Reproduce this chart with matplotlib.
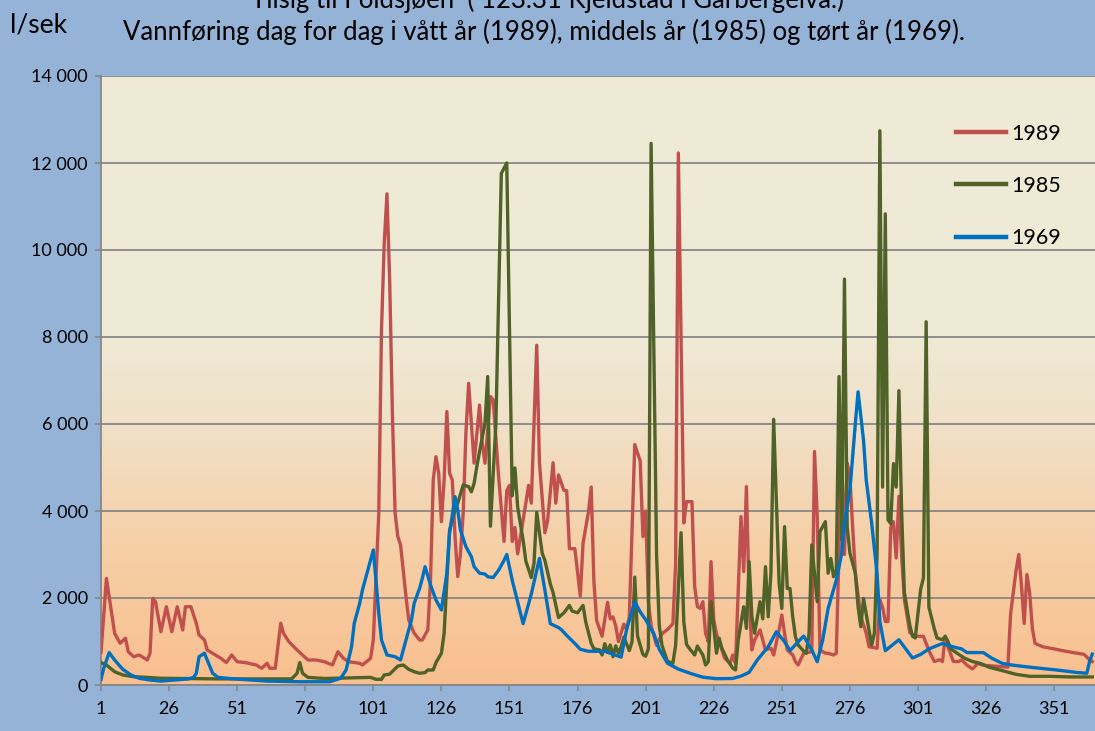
import matplotlib
matplotlib.use("Agg")
import matplotlib.pyplot as plt
import numpy as np
from matplotlib.colors import LinearSegmentedColormap
from matplotlib.lines import Line2D

plt.rcParams['font.family'] = ['Lato', 'DejaVu Sans']

# ---------------- data ----------------
days_1989 = [1, 3, 4, 6, 8, 10, 11, 13, 15, 18, 19, 20, 21, 23, 25, 27, 29, 31, 32, 34, 36, 37, 39, 40, 42, 45, 47,
             49, 51, 54, 58, 60, 62, 63, 65, 67, 68, 70, 73, 75, 77, 80, 83, 86, 88, 90, 92, 96, 97, 100, 101, 103,
             104, 105, 106, 107, 108, 109, 110, 111, 113, 114, 116, 118, 119, 121, 122, 123, 124, 125, 126, 127,
             128, 129, 130, 131, 132, 133, 134, 135, 136, 138, 140, 141, 142, 144, 145, 147, 149, 150, 151, 152,
             153, 154, 157, 158, 159, 161, 162, 164, 165, 167, 168, 169, 171, 172, 173, 175, 177, 178, 180, 181,
             182, 183, 185, 187, 188, 189, 190, 191, 193, 194, 195, 197, 199, 200, 201, 202, 203, 205, 207, 209,
             211, 212, 213, 215, 216, 218, 219, 220, 221, 222, 223, 224, 225, 226, 227, 229, 230, 232, 233, 234,
             236, 237, 238, 239, 240, 241, 243, 244, 245, 247, 248, 250, 251, 252, 253, 255, 256, 257, 259, 262,
             263, 264, 265, 267, 268, 270, 271, 273, 274, 275, 276, 277, 278, 280, 282, 283, 286, 287, 288, 289,
             290, 291, 292, 293, 294, 295, 296, 298, 300, 303, 305, 307, 309, 310, 311, 312, 314, 316, 317, 319,
             321, 323, 325, 334, 335, 336, 337, 338, 339, 340, 341, 342, 343, 344, 347, 351, 354, 358, 362, 364, 365]
flow_1989 = [750, 2450, 2030, 1190, 960, 1075, 765, 650, 690, 575, 730, 1990, 1915, 1225, 1800, 1225, 1800, 1265,
             1800, 1800, 1420, 1150, 1035, 805, 730, 615, 515, 690, 535, 515, 460, 385, 500, 385, 385, 1420, 1190,
             995, 805, 690, 575, 575, 535, 460, 765, 615, 535, 500, 460, 615, 1035, 3950, 8160, 10150, 11290, 9310,
             6245, 3950, 3410, 3220, 2030, 1495, 1190, 1035, 1035, 1265, 2410, 4710, 5250, 4870, 3755, 4710, 6285,
             4870, 4710, 3410, 2490, 3030, 3950, 5790, 6935, 5100, 6435, 5555, 5100, 6630, 6560, 4790, 3300, 4470,
             4590, 3300, 3620, 3015, 4180, 4590, 4180, 7810, 5110, 3500, 3780, 5110, 4180, 4830, 4470, 4470, 3135,
             3135, 2045, 3255, 3980, 4550, 2370, 1485, 1120, 1900, 1520, 1565, 1360, 1000, 1400, 1280, 1565, 5530,
             5150, 3410, 4000, 1910, 1365, 910, 1180, 1275, 1410, 2800, 12230, 3725, 4215, 4215, 2260, 1800, 1760,
             1915, 1190, 995, 2835, 1500, 1180, 805, 615, 500, 690, 500, 3870, 2605, 4560, 2000, 805, 1035, 1265,
             1035, 805, 845, 690, 1265, 1610, 1190, 805, 690, 535, 460, 730, 765, 5365, 3870, 805, 730, 730, 690,
             730, 5400, 3000, 5100, 4790, 3640, 2570, 1570, 1190, 880, 845, 1960, 1790, 1460, 1460, 3630, 3755,
             2920, 4340, 2960, 1960, 1205, 1120, 1120, 790, 540, 580, 540, 1120, 875, 540, 540, 580, 455, 370, 495,
             455, 410, 1625, 2125, 2630, 3000, 2290, 1415, 2540, 2125, 1290, 955, 875, 830, 790, 745, 705, 580, 540]

days_1985 = [1, 3, 6, 9, 13, 18, 23, 31, 44, 62, 71, 73, 74, 75, 77, 83, 100, 102, 104, 105, 107, 110, 112, 114,
             116, 118, 120, 121, 123, 124, 126, 127, 128, 129, 131, 132, 134, 136, 137, 138, 139, 140, 142, 143,
             144, 146, 148, 150, 152, 153, 154, 156, 157, 159, 160, 161, 163, 164, 166, 167, 169, 171, 173, 174,
             176, 178, 179, 181, 182, 184, 185, 186, 187, 188, 189, 190, 191, 192, 193, 195, 196, 197, 198, 200,
             201, 202, 203, 205, 206, 207, 209, 211, 212, 214, 215, 216, 217, 219, 220, 222, 223, 224, 225, 226,
             227, 228, 229, 231, 233, 234, 235, 237, 238, 239, 240, 241, 243, 244, 245, 246, 247, 248, 250, 251,
             252, 253, 254, 255, 256, 257, 259, 260, 261, 262, 263, 264, 265, 267, 268, 269, 270, 271, 272, 273,
             274, 275, 276, 278, 279, 280, 281, 283, 284, 285, 286, 287, 288, 289, 290, 291, 292, 293, 294, 295,
             296, 298, 299, 300, 302, 303, 304, 305, 307, 308, 310, 311, 312, 313, 316, 318, 321, 324, 327, 332,
             337, 342, 349, 357, 365]
flow_1985 = [515, 460, 305, 230, 190, 175, 155, 150, 140, 140, 140, 270, 515, 270, 175, 150, 175, 130, 130, 230,
             250, 435, 460, 360, 305, 270, 285, 345, 345, 515, 730, 1190, 2410, 3560, 4020, 4180, 4600, 4560, 4440,
             4635, 5020, 5365, 6015, 7090, 3650, 6000, 11760, 12000, 4350, 4990, 4090, 3330, 2850, 2470, 2800,
             3970, 3030, 2865, 2320, 2125, 1550, 1660, 1830, 1700, 1660, 1830, 1450, 960, 830, 810, 690, 950, 760,
             920, 650, 900, 730, 880, 1100, 790, 1000, 2480, 1130, 700, 660, 835, 12450, 3000, 1365, 910, 545, 500,
             910, 3500, 1455, 935, 845, 690, 895, 690, 460, 535, 1915, 1340, 730, 1075, 845, 575, 385, 345, 1035,
             1800, 1300, 2835, 1570, 1190, 1915, 1520, 2720, 1570, 2570, 6105, 2340, 1760, 3640, 2220, 2220, 1570,
             1110, 920, 780, 730, 1190, 3220, 2570, 1915, 3525, 3755, 2570, 2910, 2490, 2645, 7090, 3330, 9330,
             3640, 3030, 2570, 1800, 1340, 1990, 1265, 920, 1190, 3045, 12740, 4550, 10830, 3795, 3710, 5090,
             4550, 6765, 3965, 2125, 1370, 1120, 1080, 2210, 2460, 8350, 1790, 1290, 1080, 1040, 1120, 1000, 830,
             705, 620, 540, 495, 410, 330, 245, 200, 200, 185, 185]

days_1969 = [1, 2, 4, 6, 9, 12, 15, 19, 23, 28, 33, 35, 36, 37, 39, 40, 42, 44, 50, 62, 74, 85, 89, 91, 93, 94,
             96, 97, 101, 103, 104, 106, 109, 111, 113, 115, 116, 118, 119, 120, 122, 124, 126, 128, 129, 131,
             132, 133, 135, 137, 138, 140, 142, 143, 145, 147, 149, 150, 152, 154, 156, 159, 162, 164, 166, 169,
             170, 172, 175, 177, 180, 186, 188, 192, 194, 197, 199, 201, 204, 206, 209, 213, 218, 222, 227, 233,
             236, 239, 242, 246, 249, 252, 254, 257, 259, 262, 264, 266, 268, 271, 273, 274, 276, 277, 278, 279,
             281, 282, 284, 286, 287, 289, 294, 299, 302, 305, 310, 314, 317, 319, 325, 328, 332, 336, 342, 348,
             354, 359, 363, 364, 365]
flow_1969 = [130, 385, 745, 575, 360, 230, 155, 115, 90, 115, 140, 175, 270, 650, 730, 575, 270, 175, 140, 90, 75,
             75, 155, 345, 880, 1420, 1880, 2185, 3105, 1650, 1035, 690, 650, 575, 1035, 1495, 1880, 2225, 2455,
             2720, 2300, 1955, 1725, 2570, 3490, 4330, 4020, 3560, 3180, 2950, 2720, 2570, 2550, 2490, 2470, 2640,
             2865, 3000, 2410, 1910, 1410, 2090, 2910, 2180, 1410, 1320, 1275, 1140, 955, 820, 775, 775, 730, 640,
             1275, 1910, 1680, 1500, 1180, 820, 500, 365, 255, 180, 145, 150, 205, 290, 575, 880, 1225, 995, 790,
             995, 1125, 805, 535, 1035, 1760, 2410, 3030, 3715, 4480, 5250, 6015, 6740, 5630, 4710, 3715, 2540,
             1460, 790, 1040, 620, 705, 830, 955, 875, 830, 745, 745, 620, 495, 455, 410, 370, 330, 290, 270, 540,
             710]

series_labels = ['1989', '1985', '1969']
x_ticks = [1, 26, 51, 76, 101, 126, 151, 176, 201, 226, 251, 276, 301, 326, 351]
y_ticks = [0, 2000, 4000, 6000, 8000, 10000, 12000, 14000]
title_line1 = 'Tilsig til Foldsjøen  ( 123.31 Kjeldstad i Garbergelva.)'
title_line2 = 'Vannføring dag for dag i vått år (1989), middels år (1985) og tørt år (1969).'
y_unit = 'l/sek'

# ---------------- figure ----------------
W, H = 1095, 731
fig = plt.figure(figsize=(W / 100, H / 100), dpi=100)
fig.patch.set_facecolor('#95B3D7')

ax = fig.add_axes([101 / W, 46 / H, 994 / W, 609 / H])

# gradient plot-area background
cmap = LinearSegmentedColormap.from_list('bg', [(0.0, '#F9BF8F'), (0.22, '#F6CFA6'), (0.45, '#F0E2CA'),
                                                 (0.58, '#EFEAD6'), (1.0, '#EFEBD7')])
grad = np.linspace(0, 1, 256).reshape(-1, 1)
ax.imshow(grad, extent=(1, 366, 0, 14000), origin='lower', aspect='auto', cmap=cmap, zorder=-2,
          interpolation='bicubic')
ax.set_xlim(1, 366)
ax.set_ylim(0, 14000)

ax.set_yticks(y_ticks)
ax.set_yticklabels([f'{v:,}'.replace(',', ' ') for v in y_ticks])
ax.set_xticks(x_ticks)
ax.set_xticklabels([str(v) for v in x_ticks])
ax.grid(axis='y', color='#878787', linewidth=1.3)
ax.set_axisbelow(True)

for s in ['top', 'right']:
    ax.spines[s].set_visible(False)
for s in ['left', 'bottom']:
    ax.spines[s].set_color('#878787')
    ax.spines[s].set_linewidth(1.3)
ax.tick_params(axis='both', colors='#878787', labelcolor='black', labelsize=13, width=1.2)
ax.tick_params(axis='y', length=4.5, pad=5)
ax.tick_params(axis='x', length=4.5, pad=7)

colors = ['#C0504D', '#4F6228', '#0070C0']
ax.plot(days_1989, flow_1989, color=colors[0], lw=2.4, solid_joinstyle='round', zorder=3)
ax.plot(days_1985, flow_1985, color=colors[1], lw=2.4, solid_joinstyle='round', zorder=4)
ax.plot(days_1969, flow_1969, color=colors[2], lw=2.4, solid_joinstyle='round', zorder=5)

handles = [Line2D([], [], color=c, lw=3.2) for c in colors]
ax.legend(handles, series_labels, loc='upper left', bbox_to_anchor=(0.852, 0.936), frameon=False,
          handlelength=2.3, handletextpad=0.25, labelspacing=1.5, fontsize=15.5, borderaxespad=0)

fig.text(547 / W, (H - 8) / H, title_line1, ha='center', va='baseline', fontsize=18.5)
fig.text(543.5 / W, (H - 40) / H, title_line2, ha='center', va='baseline', fontsize=18.5)
fig.text(10 / W, (H - 32) / H, y_unit, ha='left', va='baseline', fontsize=19)

fig.savefig('out.png', dpi=100, facecolor=fig.get_facecolor())
